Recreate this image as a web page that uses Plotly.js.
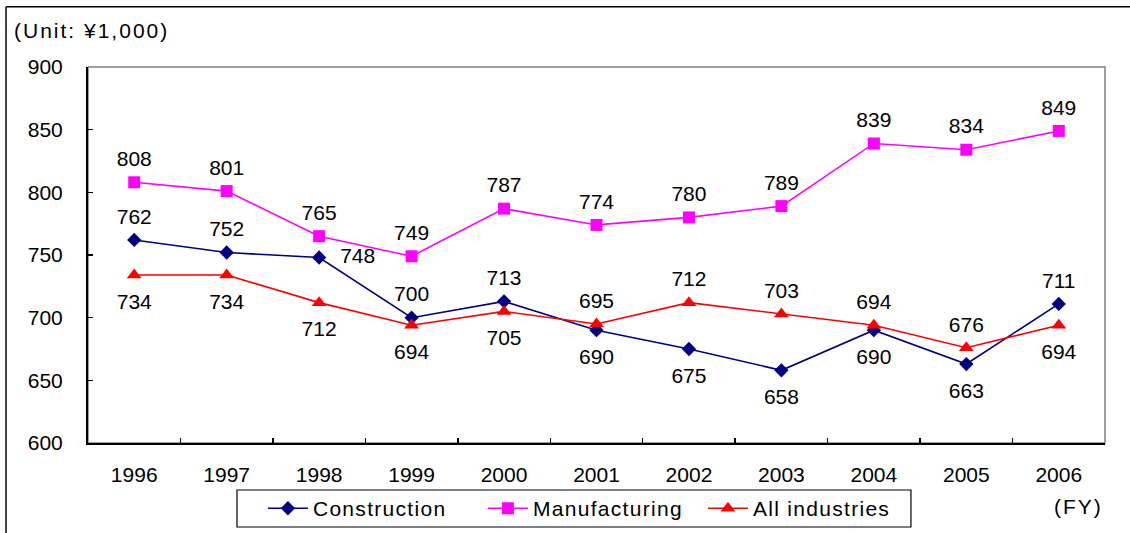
<!DOCTYPE html>
<html><head><meta charset="utf-8">
<script src="https://cdn.plot.ly/plotly-3.0.1.min.js"></script>
<style>html,body{margin:0;padding:0;background:#fff}#chart{width:1130px;height:533px}
.legendtext{letter-spacing:1.3px}
.annotation-text{letter-spacing:2px}
</style>
</head><body><div id="chart"></div>
<script>
const years = ['1996','1997','1998','1999','2000','2001','2002','2003','2004','2005','2006'];
const construction = [762,752,748,700,713,690,675,658,690,663,711];
const manufacturing = [808,801,765,749,787,774,780,789,839,834,849];
const allIndustries = [734,734,712,694,705,695,712,703,694,676,694];

// label placement
const constructionPos = ['top center','top center','middle right','top center','top center','bottom center','bottom center','bottom center','bottom center','bottom center','top center'];
const manufacturingPos = Array(11).fill('top center');
const allPos = ['bottom center','bottom center','bottom center','bottom center','bottom center','top center','top center','top center','top center','top center','bottom center'];

const fontFamily = 'Liberation Sans, Arial, sans-serif';
const font = {family: fontFamily, size: 21, color: '#000'};

function series(name, vals, color, symbol, size){
  return {name:name, x:years, y:vals, mode:'lines+markers', cliponaxis:false,
    line:{color:color, width:1.6}, marker:{symbol:symbol, size:size, color:color}};
}
function gapFor(p){ return p.startsWith('top') ? 16 : (p.startsWith('bottom') ? 27 : 32); }
function labels(vals, pos){
  return {x:years, y:vals, mode:'markers+text', text:vals.map(String), textposition:pos,
    marker:{size:pos.map(gapFor), opacity:0, color:'#fff'},
    textfont:{family:fontFamily, size:21, color:'#000'}, showlegend:false, hoverinfo:'skip', cliponaxis:false};
}

const traces = [
  series('Construction', construction, '#000080', 'diamond', 11),
  series('Manufacturing', manufacturing, '#FF00FF', 'square', 12),
  series('All industries', allIndustries, '#FF0000', 'triangle-up', 13),
  labels(construction, constructionPos),
  labels(manufacturing, manufacturingPos),
  labels(allIndustries, allPos)
];

const layout = {
  width:1130, height:533,
  margin:{l:88, r:25, t:67, b:90, autoexpand:false},
  paper_bgcolor:'#fff', plot_bgcolor:'#fff',
  font:font,
  showlegend:true,
  legend:{orientation:'h', x:0.172, y:-0.12, xanchor:'left', yanchor:'top',
    bgcolor:'rgba(0,0,0,0)', borderwidth:0, font:font, entrywidth:165, itemwidth:40, tracegroupgap:0},
  xaxis:{type:'category', showgrid:false, zeroline:false, showline:true, linecolor:'#000', linewidth:2,
    ticks:'inside', tickson:'boundaries', ticklen:5, tickcolor:'#000', tickwidth:1.5, tickfont:font,
    range:[-0.5,10.5], ticklabelstandoff:12, automargin:false},
  yaxis:{range:[600,900], dtick:50, showgrid:false, zeroline:false, showline:true, linecolor:'#000', linewidth:2,
    ticks:'inside', ticklen:5, tickcolor:'#000', tickwidth:1.5, tickfont:font, ticklabelstandoff:19, automargin:false},
  shapes:[
    {type:'rect', xref:'paper', yref:'paper', x0:0, x1:1, y0:0, y1:1, line:{color:'#808080', width:1.5}, layer:'below'},
    {type:'rect', xref:'paper', yref:'paper', x0:0.1465, x1:0.8092, y0:-0.2234, y1:-0.125, line:{color:'#000', width:1.2}},
    {type:'line', xref:'paper', yref:'paper', x0:-0.0806, x1:1.03, y0:1.16, y1:1.16, line:{color:'#000', width:1.5}},
    {type:'line', xref:'paper', yref:'paper', x0:-0.0806, x1:-0.0806, y0:1.16, y1:-0.25, line:{color:'#000', width:1.5}}
  ],
  annotations:[
    {xref:'paper', yref:'paper', x:-0.0747, y:1.098, xanchor:'left', yanchor:'middle',
      text:'(Unit: ¥1,000)', showarrow:false, font:font},
    {xref:'paper', yref:'paper', x:1.0, y:-0.170, xanchor:'right', yanchor:'middle',
      text:'(FY)', showarrow:false, font:font}
  ]
};
Plotly.newPlot('chart', traces, layout, {displayModeBar:false, staticPlot:true});
</script></body></html>
